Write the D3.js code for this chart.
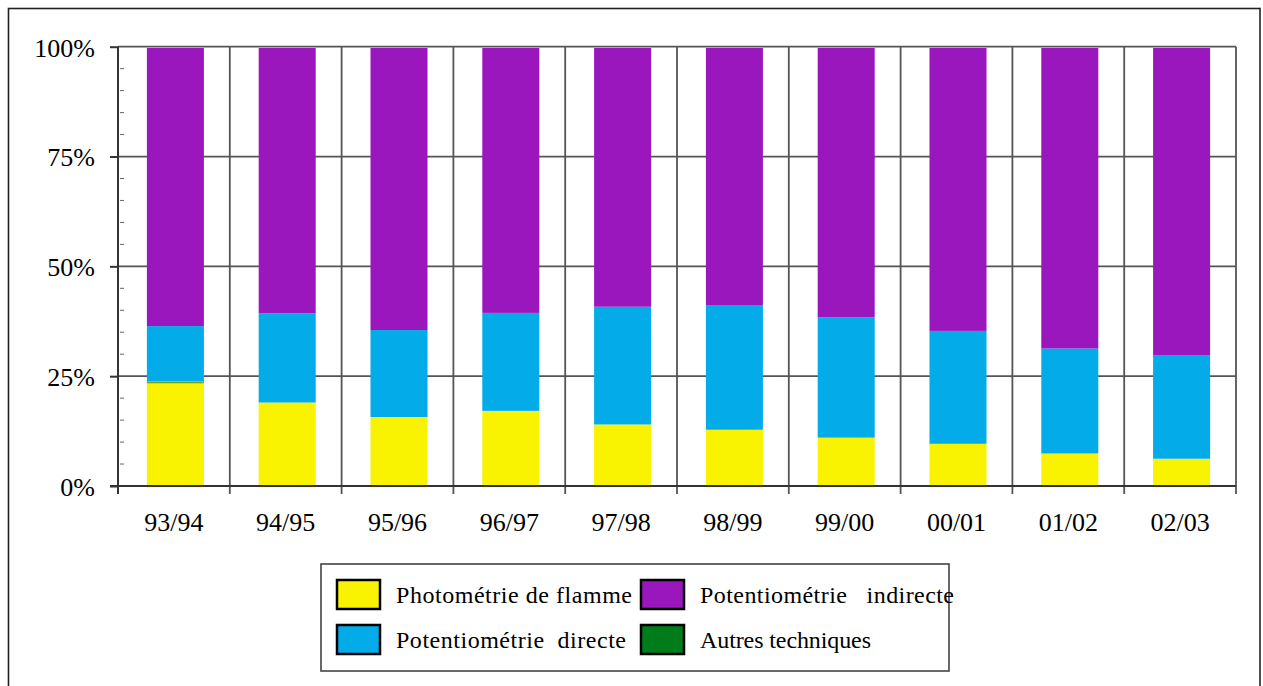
<!DOCTYPE html>
<html>
<head>
<meta charset="utf-8">
<script src="https://cdn.jsdelivr.net/npm/d3@7/dist/d3.min.js"></script>
<style>
  html, body { margin: 0; padding: 0; background: #fff; }
  svg { display: block; }
  text { font-family: "Liberation Serif", "Times New Roman", serif; fill: #000; }
</style>
</head>
<body>
<svg id="chart" width="1263" height="686"></svg>
<script>
// Season labels (x axis)
const seasons = ["93/94", "94/95", "95/96", "96/97", "97/98", "98/99", "99/00", "00/01", "01/02", "02/03"];

// Share of each measurement technique per season (%), stacked bottom to top
const photometrieFlamme      = [23.7, 19.3, 16.0, 17.4, 14.3, 13.1, 11.3,  9.9,  7.7,  6.5];
const autresTechniques       = [ 0.3,  0.0,  0.0,  0.0,  0.0,  0.0,  0.0,  0.0,  0.0,  0.0];
const potentiometrieDirecte  = [12.7, 20.3, 19.8, 22.3, 26.8, 28.4, 27.4, 25.7, 23.9, 23.6];
const potentiometrieIndirecte= [63.3, 60.4, 64.2, 60.3, 58.9, 58.5, 61.3, 64.4, 68.4, 69.9];

// Y axis tick labels
const yTicks = [0, 25, 50, 75, 100];
const yMinorTicks = [5, 10, 15, 20, 30, 35, 40, 45, 55, 60, 65, 70, 80, 85, 90, 95];

// Series, in stacking order
const seriesKeys   = ["flamme", "autres", "directe", "indirecte"];
const seriesNames  = {
  flamme: "Photométrie de flamme",
  autres: "Autres techniques",
  directe: "Potentiométrie  directe",
  indirecte: "Potentiométrie   indirecte"
};
const seriesColors = {
  flamme: "#f9f200",
  autres: "#007d1a",
  directe: "#03ace8",
  indirecte: "#9a17bd"
};

// Legend arrangement (2 x 2) and label widths
const legendOrder = ["flamme", "indirecte", "directe", "autres"];
const legendTextWidth = { flamme: 236, indirecte: 254, directe: 230, autres: 171 };

const table = seasons.map((s, i) => ({
  season: s,
  flamme: photometrieFlamme[i],
  autres: autresTechniques[i],
  directe: potentiometrieDirecte[i],
  indirecte: potentiometrieIndirecte[i]
}));

const svg = d3.select("#chart");

// Outer frame
svg.append("rect")
  .attr("x", 8.5).attr("y", 8.5)
  .attr("width", 1251.5).attr("height", 700)
  .attr("fill", "none").attr("stroke", "#222").attr("stroke-width", 1.6);

const plot = { left: 118, right: 1236, top: 46.7, bottom: 486 };

const x = d3.scaleBand().domain(seasons).range([plot.left, plot.right]).padding(0);
const y = d3.scaleLinear().domain([0, 100]).range([plot.bottom, plot.top]);

const gridColor = "#555";

// Horizontal grid lines
svg.append("g").selectAll("line")
  .data(yTicks.filter(d => d > 0))
  .join("line")
  .attr("x1", plot.left).attr("x2", plot.right)
  .attr("y1", d => y(d)).attr("y2", d => y(d))
  .attr("stroke", gridColor).attr("stroke-width", 1.8);

// Vertical separators between seasons (extend below the baseline as ticks)
const boundaries = seasons.map(s => x(s)).concat([x(seasons[seasons.length - 1]) + x.bandwidth()]);
svg.append("g").selectAll("line")
  .data(boundaries.slice(1))
  .join("line")
  .attr("x1", d => d).attr("x2", d => d)
  .attr("y1", plot.top).attr("y2", plot.bottom + 8)
  .attr("stroke", gridColor).attr("stroke-width", 1.8);

// Stacked bars
const stack = d3.stack().keys(seriesKeys);
const layers = stack(table);
const barWidth = x.bandwidth() * 0.51;

const barsG = svg.append("g").attr("transform", "translate(1.5,1.3)");
barsG.selectAll("g")
  .data(layers)
  .join("g")
  .attr("fill", d => seriesColors[d.key])
  .selectAll("rect")
  .data(d => d)
  .join("rect")
  .attr("x", d => x(d.data.season) + (x.bandwidth() - barWidth) / 2)
  .attr("width", barWidth)
  .attr("y", d => y(d[1]))
  .attr("height", d => Math.max(0, y(d[0]) - y(d[1])));

// Thin outline marking the "Autres techniques" slice where present
barsG.selectAll("rect.autres-edge")
  .data(layers[1].filter(d => d[1] - d[0] > 0))
  .join("rect")
  .attr("class", "autres-edge")
  .attr("x", d => x(d.data.season) + (x.bandwidth() - barWidth) / 2 + 1)
  .attr("width", barWidth - 2)
  .attr("y", d => y(d[1]))
  .attr("height", d => Math.max(0, y(d[0]) - y(d[1])))
  .attr("fill", "none")
  .attr("stroke", "#c7d24a").attr("stroke-width", 0.8);

// Baseline
svg.append("line")
  .attr("x1", plot.left - 8).attr("x2", plot.right)
  .attr("y1", plot.bottom).attr("y2", plot.bottom)
  .attr("stroke", "#333").attr("stroke-width", 2);

// Left axis line
svg.append("line")
  .attr("x1", plot.left).attr("x2", plot.left)
  .attr("y1", plot.top).attr("y2", plot.bottom + 8)
  .attr("stroke", "#333").attr("stroke-width", 2);

// Minor ticks on the inside of the y axis
svg.append("g").selectAll("line")
  .data(yMinorTicks)
  .join("line")
  .attr("x1", plot.left + 2).attr("x2", plot.left + 6)
  .attr("y1", d => y(d)).attr("y2", d => y(d))
  .attr("stroke", "#666").attr("stroke-width", 1);

// Y axis: major ticks and labels
const yAxis = d3.axisLeft(y)
  .tickValues(yTicks)
  .tickFormat(d => d + "%")
  .tickSize(8)
  .tickPadding(15);
const yAxisG = svg.append("g").attr("transform", `translate(${plot.left},0)`).call(yAxis);
yAxisG.select(".domain").remove();
yAxisG.selectAll(".tick line").attr("stroke", "#333").attr("stroke-width", 2);
yAxisG.selectAll(".tick text")
  .attr("font-size", 26)
  .attr("dy", "0.36em");

// X axis labels
const xAxis = d3.axisBottom(x).tickSize(0).tickPadding(27);
const xAxisG = svg.append("g").attr("transform", `translate(0,${plot.bottom})`).call(xAxis);
xAxisG.select(".domain").remove();
xAxisG.selectAll(".tick text")
  .attr("font-size", 26);

// Legend
const legend = svg.append("g");
legend.append("rect")
  .attr("x", 321).attr("y", 564)
  .attr("width", 628).attr("height", 107)
  .attr("fill", "#fff").attr("stroke", "#444").attr("stroke-width", 1.6);

const legendItems = legend.selectAll("g.item")
  .data(legendOrder)
  .join("g")
  .attr("class", "item")
  .attr("transform", (d, i) => `translate(${337 + (i % 2) * 304},${580 + Math.floor(i / 2) * 45})`);

legendItems.append("rect")
  .attr("width", 43).attr("height", 29)
  .attr("fill", d => seriesColors[d])
  .attr("stroke", "#000").attr("stroke-width", 2.5);

legendItems.append("text")
  .attr("x", 59).attr("y", 23)
  .attr("font-size", 24)
  .style("white-space", "pre")
  .attr("textLength", d => legendTextWidth[d])
  .attr("lengthAdjust", "spacing")
  .text(d => seriesNames[d]);
</script>
</body>
</html>
